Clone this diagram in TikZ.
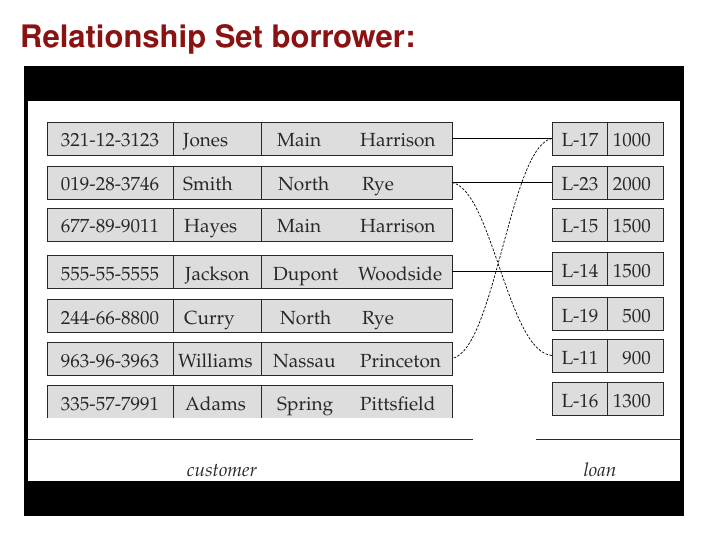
\documentclass[tikz,border=0pt]{standalone}
\usepackage[T1]{fontenc}
\usetikzlibrary{calc}
\definecolor{titlered}{RGB}{139,18,18}
\definecolor{cellgray}{RGB}{221,221,221}
\definecolor{ink}{RGB}{40,40,40}
\newcommand{\palfont}{\fontfamily{ppl}\fontsize{19}{22}\selectfont}
\tikzset{
  cbox/.style={draw=ink, line width=0.8pt, fill=cellgray, minimum width=405pt, minimum height=33pt, anchor=north west, inner sep=0pt, outer sep=0pt},
  lbox/.style={draw=ink, line width=0.8pt, fill=cellgray, minimum width=111pt, minimum height=33pt, anchor=north west, inner sep=0pt, outer sep=0pt},
  ctext/.style={anchor=base west, inner sep=0pt, text=ink, font=\palfont},
  ctextc/.style={anchor=base, inner sep=0pt, text=ink, font=\palfont},
  ctexte/.style={anchor=base east, inner sep=0pt, text=ink, font=\palfont},
  capt/.style={anchor=base, inner sep=0pt, text=ink, font=\palfont\itshape},
  sep/.style={draw=ink, line width=0.8pt},
  conn/.style={draw=black, line width=0.8pt},
  dconn/.style={draw=black, line width=0.7pt, dash pattern=on 2.5pt off 1.5pt},
}
\begin{document}
\begin{tikzpicture}[x=1pt, y=-1pt]
\useasboundingbox (0,0) rectangle (720,540);
\fill[white] (0,0) rectangle (720,540);
% title
\node[anchor=base west, inner sep=0pt, text=titlered, font=\fontfamily{phv}\fontseries{b}\fontsize{31}{34}\selectfont] (title) at (20,48) {Relationship Set borrower:};
% frame
\fill[black] (24,66) rectangle (684,516);
\fill[white] (28,101) rectangle (680,481);
\draw[sep] (28,439) -- (473,439);
\draw[sep] (536,439) -- (680,439);
% customer rows
\foreach \i/\t in {1/122,2/166,3/208,4/255,5/299,6/342} {
  \node[cbox] (c\i) at (47,\t) {};
  \draw[sep] (173,\t) -- ++(0,33);
  \draw[sep] (261,\t) -- ++(0,33);
}
\node[cbox, draw=none] (c7) at (47,385) {};
\draw[sep] (47,418) -- (47,385) -- (452,385) -- (452,418);
\draw[sep] (173,385) -- ++(0,33);
\draw[sep] (261,385) -- ++(0,33);
% customer texts
\foreach \i/\b/\a/\na/\nx/\s/\sx/\c/\cx in {
  1/147/321-12-3123/Jones/183/Main/277/Harrison/360,
  2/191/019-28-3746/Smith/183/North/278/Rye/362,
  3/233/677-89-9011/Hayes/184/Main/277/Harrison/360,
  4/280/555-55-5555/Jackson/185/Dupont/273/Woodside/358,
  5/324/244-66-8800/Curry/184/North/280/Rye/362,
  6/367/963-96-3963/Williams/178/Nassau/273/Princeton/360,
  7/410/335-57-7991/Adams/185/Spring/277/Pittsfield/360} {
  \node[ctextc] (cid\i) at (110,\b) {\a};
  \node[ctext] (cname\i) at (\nx,\b) {\na};
  \node[ctext] (cstreet\i) at (\sx,\b) {\s};
  \node[ctext] (ccity\i) at (\cx,\b) {\c};
}
% loan rows
\foreach \i/\t/\ln/\am in {1/122/L-17/1000,2/166/L-23/2000,3/208/L-15/1500,4/252/L-14/1500,5/297/L-19/500,6/339/L-11/900,7/382/L-16/1300} {
  \node[lbox] (l\i) at (552,\t) {};
  \draw[sep] (607,\t) -- ++(0,33);
  \node[ctextc] (lnum\i) at (580,\t+25) {\ln};
  \node[ctexte] (lamt\i) at (651,\t+25) {\am};
}
% captions
\node[capt] (custcap) at (222,476) {customer};
\node[capt] (loancap) at (600,476) {loan};
% connectors
\draw[conn] (c1.east) -- (l1.west);
\draw[conn] (c2.east) -- (l2.west);
\draw[conn] (c4.east) -- (c4.east -| l4.west);
\draw[dconn] (l1.west) .. controls (510,146) and (495,350) .. (c6.east);
\draw[dconn] (c2.east) .. controls (492,190) and (508,352) .. (l6.west);
\end{tikzpicture}
\end{document}
